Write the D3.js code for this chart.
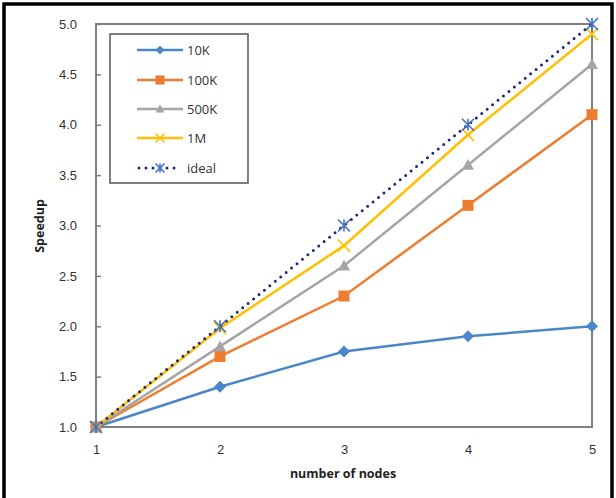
<!DOCTYPE html>
<html>
<head>
<meta charset="utf-8">
<script src="https://cdn.jsdelivr.net/npm/d3@7"></script>
<style>
  body { margin: 0; background: #fff; }
  svg { display: block; font-family: "Open Sans", "Liberation Sans", Arial, sans-serif; }
</style>
</head>
<body>
<svg id="chart" width="616" height="498"></svg>
<script>
// data
const nodes = [1, 2, 3, 4, 5];
const s10K  = [1.0, 1.4, 1.75, 1.9, 2.0];
const s100K = [1.0, 1.7, 2.3, 3.2, 4.1];
const s500K = [1.0, 1.8, 2.6, 3.6, 4.6];
const s1M   = [1.0, 1.98, 2.8, 3.9, 4.9];
const ideal = [1.0, 2.0, 3.0, 4.0, 5.0];
const yTicks = [1.0, 1.5, 2.0, 2.5, 3.0, 3.5, 4.0, 4.5, 5.0];
const seriesNames = ["10K", "100K", "500K", "1M", "ideal"];

const series = [
  {name: seriesNames[0], values: s10K,  color: "#4a87c6", marker: "diamond"},
  {name: seriesNames[1], values: s100K, color: "#ed7d31", marker: "square"},
  {name: seriesNames[2], values: s500K, color: "#a5a5a5", marker: "triangle"},
  {name: seriesNames[3], values: s1M,   color: "#ffc000", marker: "x"},
  {name: seriesNames[4], values: ideal, color: "#1f2a78", marker: "star", dotted: true, markerColor: "#4472c4"}
];

const dims = {left: 96, right: 592, top: 24, bottom: 427};

const svg = d3.select("#chart");

// outer black frame
svg.append("rect")
  .attr("x", 4).attr("y", 4).attr("width", 608).attr("height", 500)
  .attr("fill", "none").attr("stroke", "#000").attr("stroke-width", 3.5);

const x = d3.scaleLinear().domain([1, 5]).range([dims.left, dims.right]);
const y = d3.scaleLinear().domain([1, 5]).range([dims.bottom, dims.top]);

// plot box
svg.append("rect")
  .attr("x", dims.left).attr("y", dims.top)
  .attr("width", dims.right - dims.left).attr("height", dims.bottom - dims.top)
  .attr("fill", "none").attr("stroke", "#7f7f7f").attr("stroke-width", 2);

// y axis (ticks point inward)
const yAxis = svg.append("g")
  .attr("transform", "translate(" + dims.left + ",0)")
  .call(d3.axisRight(y).tickValues(yTicks).tickSize(5).tickFormat(d3.format(".1f")));
yAxis.select(".domain").remove();
yAxis.selectAll("line").attr("stroke", "#7f7f7f").attr("stroke-width", 1.5);
yAxis.selectAll("text")
  .attr("x", -19).attr("text-anchor", "end")
  .attr("fill", "#333").style("font-size", "13px");

// x axis labels
const xAxis = svg.append("g")
  .attr("transform", "translate(0," + dims.bottom + ")")
  .call(d3.axisBottom(x).tickValues(nodes).tickSize(0).tickFormat(d3.format("d")));
xAxis.select(".domain").remove();
xAxis.selectAll("text")
  .attr("y", 18).attr("fill", "#333").style("font-size", "13px");

// axis titles
svg.append("text")
  .attr("x", (dims.left + dims.right) / 2 - 1).attr("y", 478)
  .attr("text-anchor", "middle").attr("font-weight", "bold")
  .style("font-size", "12.5px").attr("fill", "#222")
  .text("number of nodes");
svg.append("text")
  .attr("transform", "translate(44,226) rotate(-90)")
  .attr("text-anchor", "middle").attr("font-weight", "bold")
  .style("font-size", "12.5px").attr("fill", "#222")
  .text("Speedup");

function drawMarker(g, type, color, size) {
  const h = size / 2;
  if (type === "diamond") {
    g.append("path").attr("d", `M0,${-h}L${h},0L0,${h}L${-h},0Z`)
      .attr("fill", color);
  } else if (type === "square") {
    g.append("rect").attr("x", -h).attr("y", -h).attr("width", size).attr("height", size)
      .attr("fill", color);
  } else if (type === "triangle") {
    g.append("path").attr("d", `M0,${-h}L${h},${h * 0.8}L${-h},${h * 0.8}Z`)
      .attr("fill", color);
  } else if (type === "x") {
    g.append("path").attr("d", `M${-h},${-h}L${h},${h}M${-h},${h}L${h},${-h}`)
      .attr("stroke", color).attr("stroke-width", 1.6).attr("fill", "none");
  } else if (type === "star") {
    g.append("path").attr("d", `M${-h},${-h}L${h},${h}M${-h},${h}L${h},${-h}M0,${-h}L0,${h}`)
      .attr("stroke", color).attr("stroke-width", 1.6).attr("fill", "none");
  }
}

const line = d3.line().x((d, i) => x(nodes[i])).y(d => y(d));

series.forEach(sr => {
  const path = svg.append("path")
    .datum(sr.values)
    .attr("d", line)
    .attr("fill", "none")
    .attr("stroke", sr.color);
  if (sr.dotted) {
    path.attr("stroke-width", 3).attr("stroke-dasharray", "0 7").attr("stroke-linecap", "round");
  } else {
    path.attr("stroke-width", 2.5);
  }
  sr.values.forEach((v, i) => {
    const g = svg.append("g").attr("transform", `translate(${x(nodes[i])},${y(v)})`);
    drawMarker(g, sr.marker, sr.markerColor || sr.color, sr.marker === "square" ? 11 : 12);
  });
});

// legend
const legend = svg.append("g");
legend.append("rect")
  .attr("x", 110).attr("y", 34).attr("width", 138).attr("height", 149)
  .attr("fill", "#fff").attr("stroke", "#555").attr("stroke-width", 1.5);

const legendY = [50, 80, 109, 138, 168];
series.forEach((sr, i) => {
  const ly = legendY[i];
  const ln = legend.append("line")
    .attr("x1", 137).attr("x2", 183).attr("y1", ly).attr("y2", ly)
    .attr("stroke", sr.color);
  if (sr.dotted) {
    ln.attr("stroke-width", 3).attr("stroke-dasharray", "0 7").attr("stroke-linecap", "round")
      .attr("x1", 139).attr("x2", 181);
  } else {
    ln.attr("stroke-width", 2.5);
  }
  const g = legend.append("g").attr("transform", `translate(160,${ly})`);
  drawMarker(g, sr.marker, sr.markerColor || sr.color, 9);
  legend.append("text")
    .attr("x", 187).attr("y", ly).attr("dy", "0.35em")
    .style("font-size", "13px").attr("fill", "#333")
    .text(sr.name);
});
</script>
</body>
</html>
